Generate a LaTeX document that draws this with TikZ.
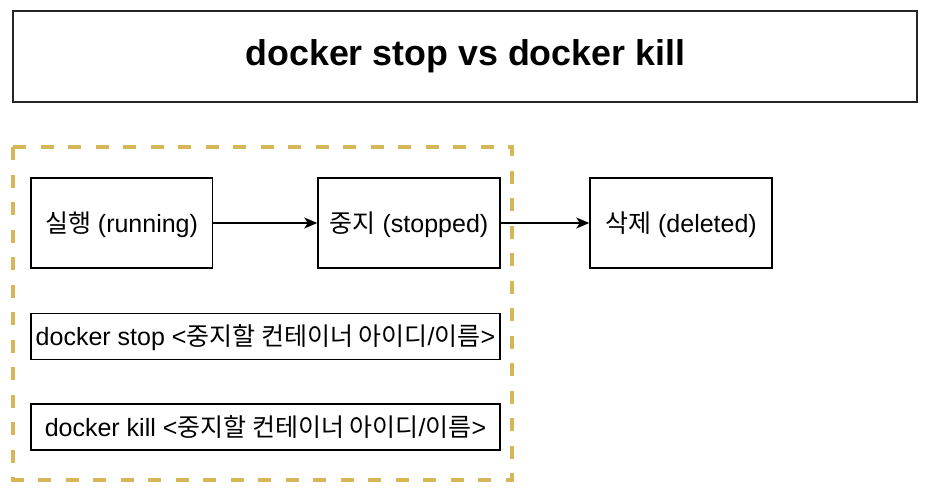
\documentclass[tikz,border=0pt]{standalone}
\usepackage{fontspec}
\setmainfont{Liberation Sans}
\newfontfamily\krfont{Noto Sans CJK KR}
\newcommand\kr[1]{{\krfont #1}}
\usetikzlibrary{arrows.meta}
\definecolor{goldline}{HTML}{D6B656}
\tikzset{
  box/.style={draw=black, line width=1.5pt, fill=white, inner sep=0pt, align=center,
    font=\fontsize{25}{29}\selectfont, text depth=2pt},
  titlebox/.style={draw=black!85, line width=2pt, inner sep=0pt, align=center,
    font=\fontsize{35.8}{40}\selectfont\bfseries},
  group/.style={draw=goldline, line width=4pt, dash pattern=on 13pt off 14.5pt},
  conn/.style={draw=black, line width=1.4pt, -{Stealth[length=13pt,width=11pt,inset=3.5pt]}},
}
\begin{document}
\begin{tikzpicture}[x=1pt,y=-1pt]
\useasboundingbox (0,0) rectangle (928,488);
\node[titlebox, minimum width=904pt, minimum height=90.5pt] (title) at (465.3,56.25) {docker stop vs docker kill};
\draw[group] (13.3,147) rectangle (512.3,479.5);
\node[box, minimum width=181.5pt, minimum height=90pt] (run) at (121.5,223) {\kr{실행} (running)};
\node[box, minimum width=182pt, minimum height=90pt] (stop) at (409,223) {\kr{중지} (stopped)};
\node[box, minimum width=182pt, minimum height=90pt] (del) at (681,223) {\kr{삭제} (deleted)};
\node[box, minimum width=469pt, minimum height=46pt] (cmdstop) at (265.5,336.5) {docker stop <\kr{중지할 컨테이너 아이디}/\kr{이름}>};
\node[box, minimum width=469pt, minimum height=46pt] (cmdkill) at (265.5,427) {docker kill <\kr{중지할 컨테이너 아이디}/\kr{이름}>};
\draw[conn] (run.east) -- (stop.west);
\draw[conn] (stop.east) -- (del.west);
\end{tikzpicture}
\end{document}
